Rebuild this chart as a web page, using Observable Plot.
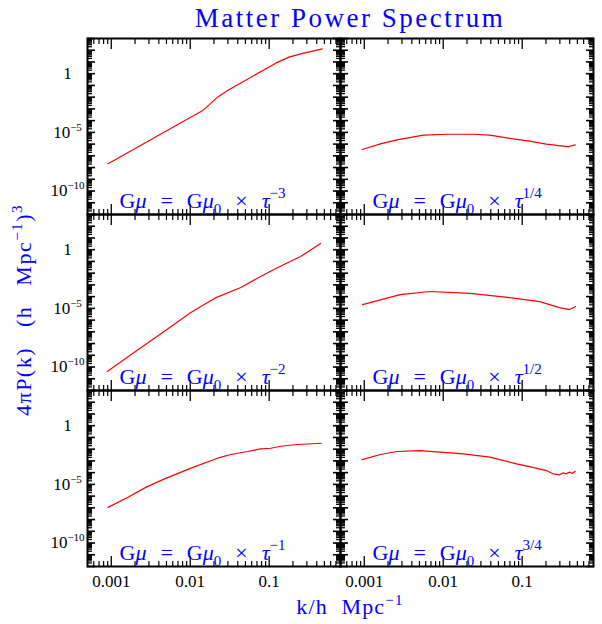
<!DOCTYPE html>
<html><head><meta charset="utf-8">
<script src="https://cdn.jsdelivr.net/npm/d3@7"></script>
<script src="https://cdn.jsdelivr.net/npm/@observablehq/plot@0.6"></script>
<style>body{margin:0;background:#fff;} #chart{width:602px;height:624px;}</style>
</head><body><div id="chart"></div>
<script>
// Panels (reading order: row by row, left then right)
const panelIds = ["tm3", "t14", "tm2", "t12", "tm1", "t34"];
const panelCols = ["left", "right", "left", "right", "left", "right"];
const panelRows = [0, 0, 1, 1, 2, 2];
const panelLabels = ["Gμ = Gμ_0 × τ^-3", "Gμ = Gμ_0 × τ^1/4", "Gμ = Gμ_0 × τ^-2", "Gμ = Gμ_0 × τ^1/2", "Gμ = Gμ_0 × τ^-1", "Gμ = Gμ_0 × τ^3/4"];

// k (h/Mpc) and 4πP(k) values
const k_tm3 = [0.00091, 0.0144, 0.0222, 0.0297, 0.121, 0.178, 0.25, 0.47];
const P_tm3 = [2.1e-8, 7.2e-4, 1.0e-2, 3.7e-2, 7.9, 25.7, 49, 132];

const k_t14 = [0.00094, 0.0016, 0.0026, 0.0056, 0.0111, 0.024, 0.0388, 0.0766, 0.124, 0.202, 0.327, 0.39, 0.47];
const P_t14 = [3.5e-7, 1.05e-6, 2.3e-6, 5.8e-6, 6.9e-6, 6.9e-6, 5.8e-6, 2.8e-6, 1.8e-6, 9.8e-7, 6.6e-7, 6.2e-7, 8.7e-7];

const k_tm2 = [0.00089, 0.00179, 0.00429, 0.0102, 0.0212, 0.0438, 0.0738, 0.121, 0.25, 0.447];
const P_tm2 = [4.2e-11, 1.15e-9, 7.2e-8, 4.5e-6, 8.3e-5, 6.0e-4, 4.3e-3, 2.5e-2, 0.26, 3.4];

const k_t12 = [0.00095, 0.00285, 0.0068, 0.0218, 0.0697, 0.166, 0.297, 0.398, 0.474];
const P_t12 = [2.1e-5, 1.5e-4, 2.75e-4, 1.86e-4, 8.3e-5, 3.8e-5, 1.17e-5, 7.9e-6, 1.45e-5];

const k_tm1 = [0.00091, 0.00163, 0.00277, 0.00472, 0.0102, 0.0222, 0.0327, 0.0531, 0.0782, 0.1045, 0.1396, 0.227, 0.456];
const P_tm1 = [1.1e-7, 8.1e-7, 5.8e-6, 2.95e-5, 2.4e-4, 1.7e-3, 3.5e-3, 6.3e-3, 1.07e-2, 1.2e-2, 1.78e-2, 2.5e-2, 3.2e-2];

const k_t34 = [0.00094, 0.0016, 0.0026, 0.0051, 0.0091, 0.018, 0.039, 0.0845, 0.124, 0.202, 0.245, 0.297, 0.327, 0.36, 0.397, 0.43, 0.47];
const P_t34 = [1.3e-3, 3.5e-3, 6.3e-3, 7.6e-3, 5.5e-3, 4.0e-3, 2.1e-3, 5.6e-4, 3.3e-4, 1.5e-4, 7.9e-5, 6.5e-5, 9.5e-5, 7.9e-5, 1.1e-4, 8.5e-5, 1.3e-4];

// Tick labels
const xTickValues = [0.001, 0.01, 0.1];
const xTickLabels = ["0.001", "0.01", "0.1"];
const yTickValues = [1, 1e-5, 1e-10];
const yTickLabels = ["1", "10^-5", "10^-10"];

const titleText = "Matter Power Spectrum";
const xTitle = "k/h  Mpc^-1";
const yTitle = "4πP(k)  (h  Mpc^-1)^3";

// ---- build tables
const series = [[k_tm3, P_tm3], [k_t14, P_t14], [k_tm2, P_tm2], [k_t12, P_t12], [k_tm1, P_tm1], [k_t34, P_t34]];
const rows = [];
series.forEach(([ks, ps], i) => ks.forEach((k, j) => rows.push({panel: panelIds[i], col: panelCols[i], row: panelRows[i], k, P: ps[j]})));
const labelData = panelIds.map((id, i) => ({col: panelCols[i], row: panelRows[i], text: panelLabels[i]}));

const xDomain = [0.0005, 0.8], yDomain = [1e-12, 1e3];
const xMinor = [], yMajor = [], yMinor = [];
for (let e = -4; e <= 0; e++) for (let m = 2; m <= 9; m++) { const v = m * 10 ** e; if (v > xDomain[0] && v < xDomain[1]) xMinor.push(v); }
for (let e = -12; e <= 3; e++) { yMajor.push(10 ** e); if (e < 3) for (let m = 2; m <= 9; m++) yMinor.push(m * 10 ** e); }

const blank = () => "";
const tk = (data, anchor, size, kind, sw) => (kind === "x" ? Plot.axisX : Plot.axisY)(data, {anchor, tickSize: -size, tickFormat: blank, facetAnchor: null, label: null, stroke: "black", strokeWidth: sw});

const svg = Plot.plot({
  width: 602, height: 624,
  marginTop: 38, marginBottom: 58, marginLeft: 86, marginRight: 9,
  style: {fontFamily: "'Liberation Serif', serif", background: "white", color: "black"},
  x: {type: "log", domain: xDomain},
  y: {type: "log", domain: yDomain},
  fx: {domain: ["left", "right"], padding: 0, axis: null},
  fy: {domain: [0, 1, 2], padding: 0, axis: null},
  marks: [
    Plot.line(rows, {x: "k", y: "P", z: "panel", fx: "col", fy: "row", stroke: "#ff0000", strokeWidth: 1.2}),
    tk(xTickValues, "bottom", 10, "x", 1.3), tk(xMinor, "bottom", 5, "x", 1.2),
    tk(xTickValues, "top", 10, "x", 1.3), tk(xMinor, "top", 5, "x", 1.2),
    tk(yMajor, "left", 8, "y", 1.6), tk(yMinor, "left", 5, "y", 1.3),
    tk(yMajor, "right", 8, "y", 1.6), tk(yMinor, "right", 5, "y", 1.3),
    Plot.axisX(xTickValues, {anchor: "bottom", tickSize: 0, tickPadding: 8, fontSize: 17, facetAnchor: "bottom", label: null,
      tickFormat: d => xTickLabels[xTickValues.indexOf(d)]}),
    Plot.axisY(yTickValues, {anchor: "left", tickSize: 0, tickPadding: 20, fontSize: 17, textAnchor: "middle", facetAnchor: "left", label: null,
      tickFormat: d => yTickLabels[yTickValues.indexOf(d)]}),
    Plot.text(labelData, {fx: "col", fy: "row", text: "text", frameAnchor: "bottom-left", dx: 32, dy: -7,
      textAnchor: "start", lineAnchor: "bottom", fill: "#0000ff", fontSize: 22}),
    Plot.frame({stroke: "black", strokeWidth: 2})
  ]
});

// rich text: _x subscript, ^x superscript, greek italic
function rich(el, str, size, italicGreek) {
  el.textContent = "";
  el.setAttribute("style", (el.getAttribute("style") || "") + ";white-space:pre");
  const re = italicGreek ? /_(\S)|\^([^\s()^]+)|([μτ])|([^_^μτ]+)/g : /_(\S)|\^([^\s()^]+)|()([^_^]+)/g;
  let m, shift = 0;
  const small = Math.round(size * 0.66);
  const add = (txt, opts) => {
    const t = document.createElementNS("http://www.w3.org/2000/svg", "tspan");
    t.textContent = txt;
    for (const [a, v] of Object.entries(opts)) t.setAttribute(a, v);
    el.appendChild(t);
  };
  while ((m = re.exec(str))) {
    if (m[1] !== undefined) { add(m[1], {dy: size * 0.28 - shift, "font-size": small}); shift = size * 0.28; }
    else if (m[2] !== undefined) { add(m[2].replace(/-/g, "−"), {dy: -size * 0.42 - shift, "font-size": small}); shift = -size * 0.42; }
    else { const o = {dy: -shift}; if (m[3]) o["font-style"] = "italic"; add(m[3] || m[4], o); shift = 0; }
  }
}
d3.select(svg).selectAll("text").each(function() {
  const s = this.textContent;
  if (s.includes("_0")) { rich(this, s.replace(/ /g, "  "), 22, true); this.setAttribute("word-spacing", 1.5); }
  else if (s.includes("^")) rich(this, s, 17, false);
});

const S = d3.select(svg);
S.append("text").attr("x", 350).attr("y", 27).attr("text-anchor", "middle").attr("fill", "#0000ff")
  .attr("font-size", 27).attr("letter-spacing", 2.5).text(titleText);
const xt = S.append("text").attr("x", 350).attr("y", 614).attr("text-anchor", "middle").attr("fill", "#0000ff")
  .attr("font-size", 22).attr("letter-spacing", 1.2);
rich(xt.node(), xTitle, 22, false);
const yt = S.append("text").attr("transform", "translate(31,310) rotate(-90)").attr("text-anchor", "middle").attr("fill", "#0000ff")
  .attr("font-size", 22).attr("letter-spacing", 1.5).attr("word-spacing", 3);
rich(yt.node(), yTitle, 22, false);

document.getElementById("chart").appendChild(svg);
</script></body></html>
